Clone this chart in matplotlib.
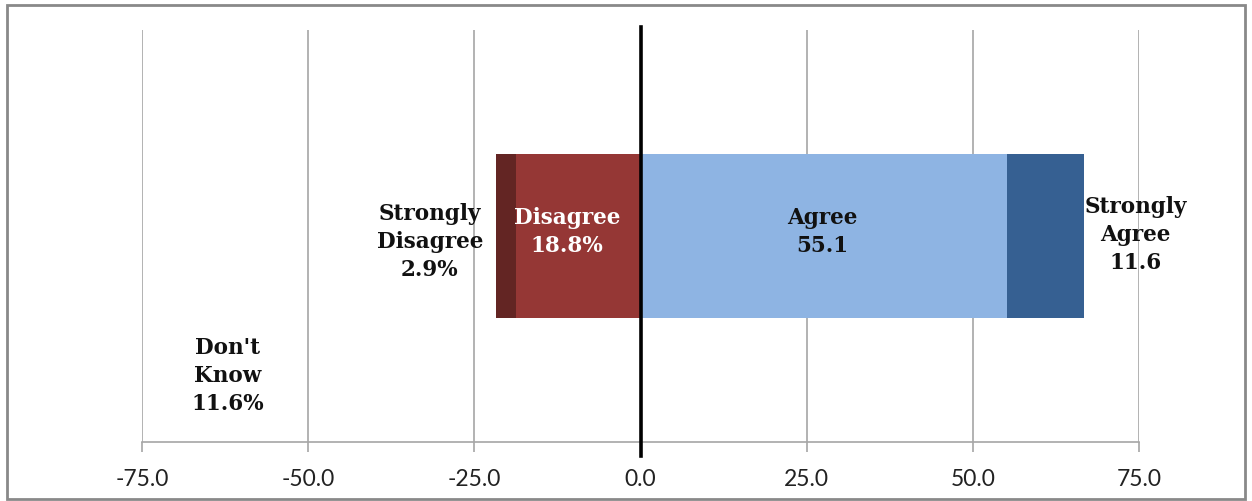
import matplotlib
matplotlib.use("Agg")
import matplotlib.pyplot as plt
from matplotlib.patches import Rectangle
import matplotlib.transforms as mtransforms

# responses, left side goes negative
segments = ["Strongly Disagree", "Disagree", "Agree", "Strongly Agree"]
values = [-2.9, -18.8, 55.1, 11.6]
colors = ["#632523", "#953735", "#8EB4E3", "#366092"]

labels = ["Strongly\nDisagree\n2.9%", "Disagree\n18.8%", "Agree\n55.1", "Strongly\nAgree\n11.6", "Don't\nKnow\n11.6%"]
label_x = [-31.7, -11.1, 27.4, 74.5, -62.1]
label_y = [0.488, 0.512, 0.512, 0.505, 0.163]
label_colors = ["#111111", "white", "#111111", "#111111", "#111111"]

ticks = [-75, -50, -25, 0, 25, 50, 75]

W, H = 1252, 502
fig = plt.figure(figsize=(W / 100, H / 100), dpi=100)
ax = fig.add_axes([142 / W, 1 - 443 / H, (1139 - 142) / W, (443 - 31) / H])

# Disagree sits at zero, Strongly Disagree beyond it; same on the agree side
ax.barh(0.5, values[1], height=0.4, left=0, color=colors[1], zorder=2)
ax.barh(0.5, values[0], height=0.4, left=values[1], color=colors[0], zorder=2)
ax.barh(0.5, values[2], height=0.4, left=0, color=colors[2], zorder=2)
ax.barh(0.5, values[3], height=0.4, left=values[2], color=colors[3], zorder=2)

ax.set_xlim(-75, 75)
ax.set_ylim(0, 1)
ax.set_xticks(ticks)
ax.set_xticklabels([f"{t:.1f}" for t in ticks], fontfamily="Lato", fontsize=16.5, color="#222222")
ax.set_yticks([])
ax.grid(axis="x", color="#A6A6A6", linewidth=1.2, zorder=0)
for s in ["top", "right", "left"]:
    ax.spines[s].set_visible(False)
ax.spines["bottom"].set_color("#A6A6A6")
ax.spines["bottom"].set_linewidth(1.2)
ax.tick_params(axis="x", length=7, width=1.2, color="#A6A6A6", pad=12)

# zero line, sticks out past the axis
trans = mtransforms.blended_transform_factory(ax.transData, ax.transAxes)
ax.plot([0, 0], [-0.035, 1.008], color="black", linewidth=2.6, transform=trans, clip_on=False, zorder=4)

for t, x, y, c in zip(labels, label_x, label_y, label_colors):
    ax.text(x, y, t, ha="center", va="center", color=c, fontfamily="DejaVu Serif",
            fontweight="bold", fontsize=15.5, linespacing=1.35, zorder=5, clip_on=False)

fig.patches.append(Rectangle((7 / W, 1 - 500 / H), (1245 - 7) / W, (500 - 6) / H,
                             transform=fig.transFigure, fill=False, edgecolor="#898989", linewidth=2))

fig.savefig("out.png", dpi=100)
